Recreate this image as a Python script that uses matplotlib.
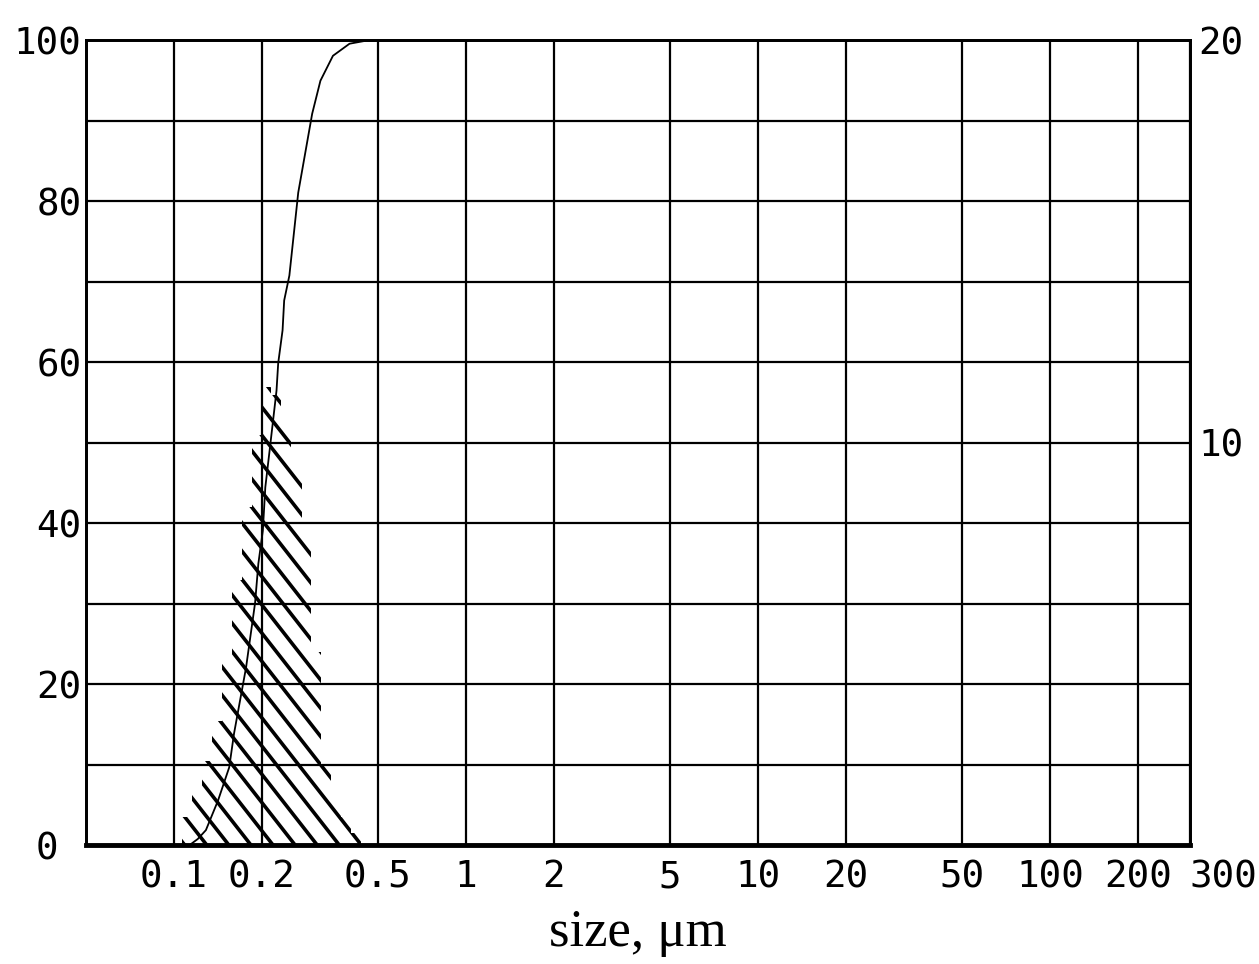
import numpy as np
import matplotlib.pyplot as plt
from matplotlib.patches import Polygon

# cumulative undersize curve (left axis, %)
cum_size = [0.113, 0.121, 0.129, 0.142, 0.155, 0.161, 0.177, 0.190, 0.195, 0.202,
            0.206, 0.213, 0.225, 0.228, 0.236, 0.239, 0.249, 0.267, 0.298, 0.318,
            0.351, 0.400, 0.460, 300]
cum_pct = [0, 0.8, 1.9, 5.6, 9.7, 13.9, 22.1, 30.1, 35.0, 39.1,
           44.5, 49.0, 56.5, 59.9, 64.0, 67.7, 70.8, 81.1, 90.9, 95.0,
           98.1, 99.6, 100, 100]

# frequency histogram (right axis, %)
bin_edges = [0.107, 0.116, 0.125, 0.135, 0.146, 0.158, 0.171, 0.185, 0.200, 0.216,
             0.234, 0.253, 0.274, 0.296, 0.320, 0.346, 0.374, 0.405, 0.438]
freq = [0.7, 1.3, 2.1, 3.1, 4.7, 6.6, 8.4, 10.2, 11.4, 11.2,
        10.4, 9.4, 7.7, 4.8, 2.0, 1.2, 0.7, 0.3]

x_ticks = [0.1, 0.2, 0.5, 1, 2, 5, 10, 20, 50, 100, 200, 300]
x_labels = ['0.1', '0.2', '0.5', '1', '2', '5', '10', '20', '50', '100', '200', '300']
left_ticks = [0, 20, 40, 60, 80, 100]
left_labels = ['0 ', '20', '40', '60', '80', '100']
right_ticks = [10, 20]
right_labels = ['10', '20']

mono = 'DejaVu Sans Mono'

fig = plt.figure(figsize=(12.59, 9.64), dpi=100)
ax = fig.add_axes([0.068, 0.123, 0.877, 0.835])
ax.set_xscale('log')
ax.set_xlim(0.05, 300)
ax.set_ylim(0, 100)
ax.set_xticks(x_ticks, x_labels)
ax.xaxis.set_minor_locator(plt.NullLocator())
ax.set_yticks(left_ticks, left_labels)
ax.set_yticks(range(10, 100, 20), minor=True)
ax.grid(True, which='both', color='black', lw=1.6)
ax.tick_params(which='both', length=0, labelfontfamily=mono, labelsize=27)
ax.tick_params(axis='x', pad=10)
ax.tick_params(axis='y', pad=3)
ax.get_xticklabels()[-1].set_ha('left')
for s in ax.spines.values():
    s.set_linewidth(2)
ax.spines['bottom'].set_linewidth(3.5)

ax.plot(cum_size, cum_pct, color='black', lw=1.3)

ax.set_xlabel('size, μm', fontfamily='Liberation Serif', fontsize=38, labelpad=10)

ax2 = ax.twinx()
ax2.set_ylim(0, 20)
ax2.set_yticks(right_ticks, right_labels)
ax2.tick_params(length=0, labelfontfamily=mono, labelsize=27, pad=6)
for s in ax2.spines.values():
    s.set_linewidth(2)

# hatched histogram: outline used only as a clip path for slanted lines
xs = np.repeat(bin_edges, 2)
ys = np.concatenate([[0], np.repeat(freq, 2), [0]])
poly = Polygon(np.column_stack([xs, ys]), closed=True, transform=ax2.transData,
               facecolor='none', edgecolor='none')
ax2.add_patch(poly)
for x0 in np.arange(-0.7, 0.4, 0.02):
    ax2.plot([x0, x0 + 0.57], [1, 0], transform=ax2.transAxes, color='black',
             lw=2.6, solid_capstyle='butt', clip_path=poly)

fig.savefig('out.png', dpi=100)
